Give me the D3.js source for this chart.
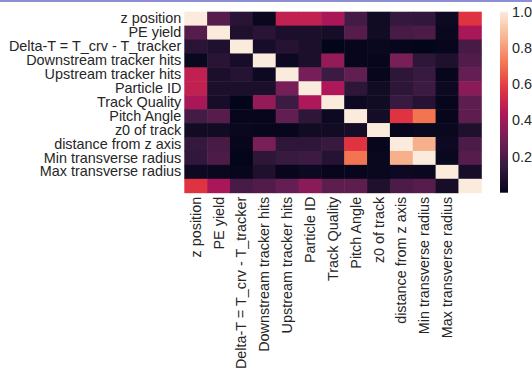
<!DOCTYPE html>
<html>
<head>
<meta charset="utf-8">
<script src="https://cdn.jsdelivr.net/npm/d3@7"></script>
<style>
  html, body { margin: 0; padding: 0; background: #fff; }
  svg { display: block; }
  text { font-family: "Liberation Sans", Arial, sans-serif; fill: #262626; }
</style>
</head>
<body>
<svg id="chart" width="532" height="370"></svg>
<script>
// Feature names (the last variable carries no tick label)
const features = [
  "z position", "PE yield", "Delta-T = T_crv - T_tracker",
  "Downstream tracker hits", "Upstream tracker hits", "Particle ID",
  "Track Quality", "Pitch Angle", "z0 of track", "distance from z axis",
  "Min transverse radius", "Max transverse radius", ""
];

// Correlation matrix, one row per feature
const corr = [
  [1.00, 0.22, 0.11, 0.02, 0.48, 0.48, 0.42, 0.18, 0.04, 0.14, 0.13, 0.03, 0.57],
  [0.22, 1.00, 0.08, 0.11, 0.07, 0.07, 0.06, 0.22, 0.04, 0.19, 0.20, 0.02, 0.42],
  [0.11, 0.08, 1.00, 0.06, 0.10, 0.07, 0.00, 0.01, 0.02, 0.01, 0.00, 0.01, 0.19],
  [0.02, 0.11, 0.06, 1.00, 0.03, 0.07, 0.37, 0.01, 0.01, 0.31, 0.12, 0.08, 0.21],
  [0.48, 0.07, 0.10, 0.03, 1.00, 0.30, 0.16, 0.25, 0.01, 0.12, 0.15, 0.01, 0.26],
  [0.48, 0.07, 0.07, 0.07, 0.30, 1.00, 0.43, 0.12, 0.04, 0.12, 0.16, 0.03, 0.35],
  [0.42, 0.06, 0.00, 0.37, 0.16, 0.43, 1.00, 0.03, 0.04, 0.15, 0.10, 0.01, 0.24],
  [0.18, 0.22, 0.01, 0.01, 0.25, 0.12, 0.03, 1.00, 0.05, 0.57, 0.71, 0.01, 0.24],
  [0.04, 0.04, 0.02, 0.01, 0.01, 0.04, 0.04, 0.05, 1.00, 0.01, 0.02, 0.02, 0.08],
  [0.14, 0.19, 0.01, 0.31, 0.12, 0.12, 0.15, 0.57, 0.01, 1.00, 0.85, 0.03, 0.20],
  [0.13, 0.20, 0.00, 0.12, 0.15, 0.16, 0.10, 0.71, 0.02, 0.85, 1.00, 0.02, 0.22],
  [0.03, 0.02, 0.01, 0.08, 0.01, 0.03, 0.01, 0.01, 0.02, 0.03, 0.02, 1.00, 0.06],
  [0.57, 0.42, 0.19, 0.21, 0.26, 0.35, 0.24, 0.24, 0.08, 0.20, 0.22, 0.06, 1.00]
];

// Colour bar tick values
const cbarTicks = [0.2, 0.4, 0.6, 0.8, 1.0];

// "rocket" colour map stops
const rocketStops = ["#03051a", "#35193e", "#701f57", "#ad1759", "#e13342", "#f37651", "#f6b48f", "#faebdd"];

(function () {
  const svg = d3.select("#chart");
  const W = 532;

  // thin frame line along the top edge
  svg.append("rect").attr("x", 0).attr("y", 0).attr("width", W).attr("height", 2).attr("fill", "#8e8ed4");

  const mLeft = 184.3, mRight = 481.3, mTop = 11.7, mBottom = 192.7;
  const vmin = 0, vmax = 1;
  const fontStack = "'Liberation Sans', Arial, sans-serif";
  const fs = 14.4;

  const color = d3.scaleLinear()
    .domain(rocketStops.map((_, i) => vmin + (vmax - vmin) * i / (rocketStops.length - 1)))
    .range(rocketStops)
    .interpolate(d3.interpolateRgb)
    .clamp(true);

  const idx = d3.range(features.length);
  const x = d3.scaleBand().domain(idx).range([mLeft, mRight]);
  const y = d3.scaleBand().domain(idx).range([mTop, mBottom]);

  const cells = [];
  corr.forEach((row, i) => row.forEach((v, j) => cells.push({ i, j, v })));

  svg.append("g").selectAll("rect")
    .data(cells)
    .join("rect")
    .attr("x", d => x(d.j))
    .attr("y", d => y(d.i))
    .attr("width", x.bandwidth() + 0.5)
    .attr("height", y.bandwidth() + 0.5)
    .attr("fill", d => color(d.v));

  // row labels
  const yAxis = d3.axisLeft(y).tickSize(0).tickPadding(3).tickFormat(i => features[i]);
  const gy = svg.append("g").attr("transform", `translate(${mLeft},0)`).call(yAxis);
  gy.select(".domain").remove();
  gy.selectAll("text").style("font-size", fs + "px").style("font-family", fontStack).attr("fill", "#262626");

  // column labels, rotated
  const xAxis = d3.axisBottom(x).tickSize(0).tickPadding(0).tickFormat(i => features[i]);
  const gx = svg.append("g").attr("transform", `translate(0,${mBottom})`).call(xAxis);
  gx.select(".domain").remove();
  gx.selectAll("text")
    .style("font-size", fs + "px")
    .style("font-family", fontStack)
    .attr("fill", "#262626")
    .attr("text-anchor", "end")
    .attr("dy", "0.35em")
    .attr("y", 0)
    .attr("transform", "translate(0,4) rotate(-90)");

  // colour bar
  const cbX = 500, cbW = 8;
  const grad = svg.append("defs").append("linearGradient").attr("id", "cbar")
    .attr("x1", 0).attr("y1", 1).attr("x2", 0).attr("y2", 0);
  d3.range(0, 1.0001, 0.02).forEach(t => {
    grad.append("stop").attr("offset", t).attr("stop-color", color(vmin + t * (vmax - vmin)));
  });
  svg.append("rect").attr("x", cbX).attr("y", mTop).attr("width", cbW).attr("height", mBottom - mTop).attr("fill", "url(#cbar)");

  const cbScale = d3.scaleLinear().domain([vmin, vmax]).range([mBottom, mTop]);
  const cAxis = d3.axisRight(cbScale).tickValues(cbarTicks).tickSize(0).tickPadding(4).tickFormat(d3.format(".1f"));
  const gc = svg.append("g").attr("transform", `translate(${cbX + cbW},0)`).call(cAxis);
  gc.select(".domain").remove();
  gc.selectAll("text").style("font-size", fs + "px").style("font-family", fontStack).attr("fill", "#262626");
})();
</script>
</body>
</html>
